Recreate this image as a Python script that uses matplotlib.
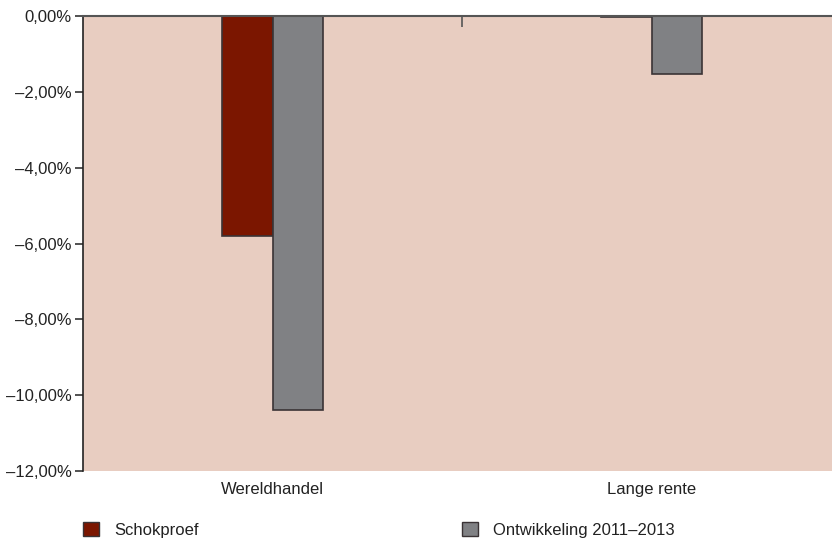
import matplotlib.pyplot as plt
from matplotlib.patches import Patch
from matplotlib.ticker import FuncFormatter

plt.rcParams['font.family'] = ['Liberation Sans', 'DejaVu Sans']

categories = ["Wereldhandel", "Lange rente"]
schokproef = [-5.8, -0.03]
ontwikkeling = [-10.4, -1.53]
series_names = ["Schokproef", "Ontwikkeling 2011\u20132013"]
yticks = [0, -2, -4, -6, -8, -10, -12]

red = "#7b1600"
grey = "#808184"
bg = "#e8cdc1"
edge = "#3a3335"

fig = plt.figure(figsize=(8.32, 5.42), dpi=100)
ax = fig.add_axes([83 / 832, 71 / 542, 758 / 832, 455 / 542])
ax.set_facecolor(bg)

x = range(len(categories))
w = 0.133
ax.bar([i - w / 2 for i in x], schokproef, w, color=red, edgecolor=edge, linewidth=1.2)
ax.bar([i + w / 2 for i in x], ontwikkeling, w, color=grey, edgecolor=edge, linewidth=1.2)

ax.set_xlim(-0.5, 1.5)
ax.set_ylim(-12, 0)
ax.set_yticks(yticks)
ax.yaxis.set_major_formatter(FuncFormatter(
    lambda v, p: ("\u2013" if v < 0 else "") + ("%.2f%%" % abs(v)).replace(".", ",")))
ax.set_xticks(list(x))
ax.set_xticklabels(categories)
ax.tick_params(axis='x', length=0, pad=8, labelsize=12, labelcolor="#222222")
ax.tick_params(axis='y', length=6, width=1.2, color="#333333", labelsize=12,
               labelcolor="#222222", pad=2)

for s in ['right', 'bottom']:
    ax.spines[s].set_visible(False)
ax.spines['left'].set_color("#222222")
ax.spines['left'].set_linewidth(1.2)
ax.spines['top'].set_color("#555555")
ax.spines['top'].set_linewidth(1.5)

# divider tick between the two categories
sec = ax.secondary_xaxis('top')
sec.set_xticks([0.5])
sec.set_xticklabels([""])
sec.tick_params(direction='in', length=8, width=1.2, color="#555555")
sec.spines['top'].set_visible(False)

colors = [red, grey]
legend_x = [83 / 832, 462 / 832]
for name, c, lx in zip(series_names, colors, legend_x):
    fig.legend(handles=[Patch(facecolor=c, edgecolor=edge, label=name)],
               loc='center left', bbox_to_anchor=(lx, 12 / 542),
               frameon=False, fontsize=12, handlelength=0.95, handleheight=0.95,
               handletextpad=0.9, borderpad=0, borderaxespad=0,
               labelcolor="#222222")

fig.savefig("out.png", dpi=100)
